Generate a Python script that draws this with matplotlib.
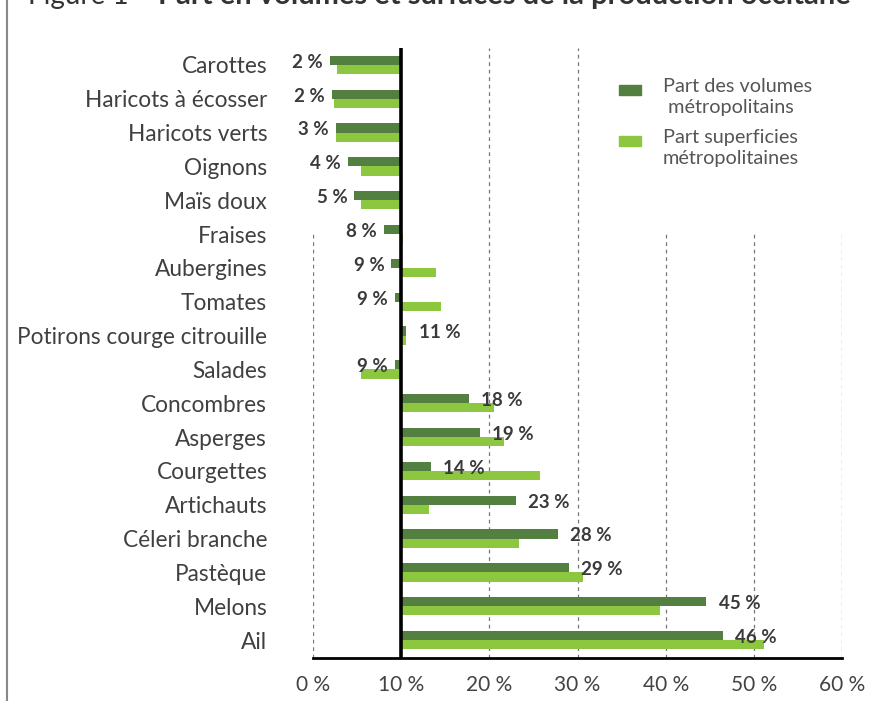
import matplotlib.pyplot as plt
from matplotlib.patches import Rectangle
from matplotlib.lines import Line2D
import numpy as np

plt.rcParams['font.family'] = ['Lato', 'DejaVu Sans']

categories = [
    "Carottes", "Haricots à écosser", "Haricots verts", "Oignons", "Maïs doux",
    "Fraises", "Aubergines", "Tomates", "Potirons courge citrouille", "Salades",
    "Concombres", "Asperges", "Courgettes", "Artichauts", "Céleri branche",
    "Pastèque", "Melons", "Ail",
]
# part des volumes métropolitains (%)
volumes = [1.9, 2.1, 2.6, 4.0, 4.7, 8.0, 8.9, 9.3, 10.6, 9.3,
           17.7, 18.9, 13.4, 23.0, 27.8, 29.0, 44.6, 46.5]
# part des superficies métropolitaines (%)
superficies = [2.7, 2.4, 2.6, 5.4, 5.4, 10.2, 14.0, 14.5, 10.5, 5.5,
               20.5, 21.7, 25.8, 13.2, 23.4, 30.6, 39.4, 51.1]
labels = ["2 %", "2 %", "3 %", "4 %", "5 %", "8 %", "9 %", "9 %", "11 %", "9 %",
          "18 %", "19 %", "14 %", "23 %", "28 %", "29 %", "45 %", "46 %"]
xticks = [0, 10, 20, 30, 40, 50, 60]
base = 10

dark = "#537f40"
light = "#8dc63f"
txt = "#3a3a3a"

W, H = 875, 701
fig = plt.figure(figsize=(W / 100, H / 100), dpi=100)
ax = fig.add_axes([313 / W, 1 - 658 / H, (842 - 313) / W, (658 - 48) / H])

y = np.arange(len(categories))
bh = 0.27
vol = np.array(volumes)
sup = np.array(superficies)
ax.barh(y - bh / 2, vol - base, left=base, height=bh, color=dark, zorder=3)
ax.barh(y + bh / 2, sup - base, left=base, height=bh, color=light, zorder=3)

for yi, v, lab in zip(y, vol, labels):
    if v < base:
        ax.text(v - 0.8, yi - 0.08, lab, ha="right", va="center",
                fontsize=13.5, fontweight="bold", color=txt, zorder=5)
    else:
        ax.text(v + 1.4, yi - 0.08, lab, ha="left", va="center",
                fontsize=13.5, fontweight="bold", color=txt, zorder=5)

ax.set_xlim(0, 60)
ax.set_ylim(len(categories) - 0.47, -0.5)

# dashed gridlines (partly masked in the original by legend / labels)
for xv in [0, 40, 50, 60]:
    ax.vlines(xv, len(categories) - 0.47, 4.94, colors="#777777",
              linestyles=(0, (3, 3)), linewidth=0.9, zorder=1)
for xv in [20, 30]:
    ax.vlines(xv, len(categories) - 0.47, -0.5, colors="#777777",
              linestyles=(0, (3, 3)), linewidth=0.9, zorder=1)

ax.axvline(base, color="black", linewidth=2.6, zorder=4)

for s in ["top", "right", "left"]:
    ax.spines[s].set_visible(False)
ax.spines["bottom"].set_linewidth(2.0)
ax.spines["bottom"].set_color("black")
ax.spines["bottom"].set_zorder(6)

ax.set_xticks(xticks)
ax.set_xticklabels([f"{t} %" for t in xticks])
ax.set_yticks(y)
ax.set_yticklabels(categories)
ax.tick_params(axis="x", length=0, pad=12, labelsize=15, labelcolor="#444444")
ax.tick_params(axis="y", length=0, pad=33, labelsize=16.3, labelcolor="#404040")

# legend drawn by hand
fig.add_artist(Rectangle((619 / W, 1 - 95 / H), 22 / W, 10 / H,
                         transform=fig.transFigure, color=dark))
fig.add_artist(Rectangle((619 / W, 1 - 146 / H), 22 / W, 10 / H,
                         transform=fig.transFigure, color=light))
fig.text(663 / W, 1 - 97 / H, "Part des volumes\n métropolitains", fontsize=14.3,
         color="#555555", va="center", ha="left", linespacing=1.25)
fig.text(663 / W, 1 - 148 / H, "Part superficies\nmétropolitaines", fontsize=14.3,
         color="#555555", va="center", ha="left", linespacing=1.25)

# title, cut off at top of the image
fig.text(28 / W, 1 - 4 / H, "Figure 1 – ", fontsize=20, color="#333333", va="baseline")
fig.text(851 / W, 1 - 4 / H, "Part en volumes et surfaces de la production occitane",
         fontsize=21, fontweight="bold", color="#333333", va="baseline", ha="right")

fig.add_artist(Line2D([7 / W, 7 / W], [0, 1], color="#888888", linewidth=1.5,
                      transform=fig.transFigure))

fig.savefig("out.png", dpi=100)
